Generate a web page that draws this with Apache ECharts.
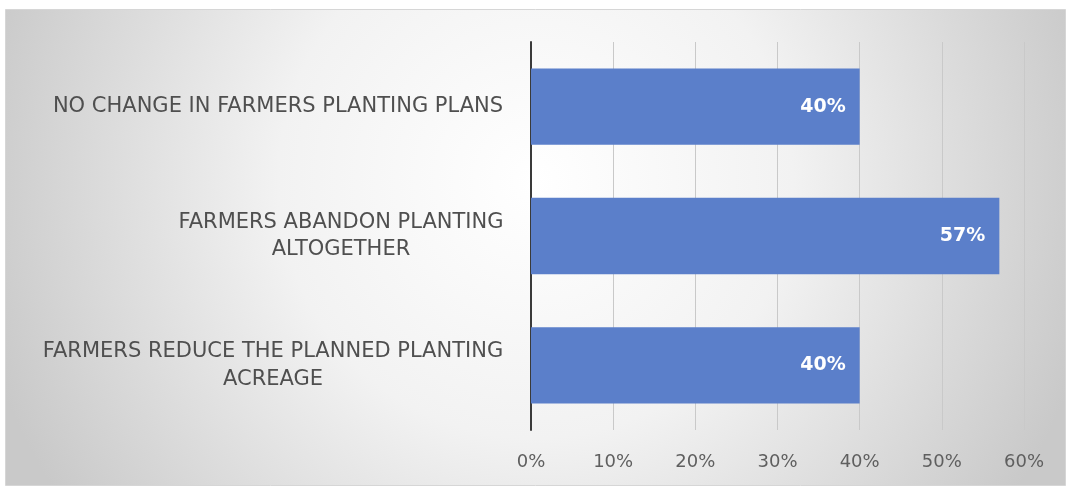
<!DOCTYPE html>
<html>
<head>
<meta charset="utf-8">
<script src="https://cdn.jsdelivr.net/npm/echarts@6/dist/echarts.min.js"></script>
<style>
  html, body { margin: 0; padding: 0; background: #ffffff; }
  #chart { width: 1071px; height: 491px; }
</style>
</head>
<body>
<div id="chart"></div>
<script>
// Survey outcomes: how farmers changed their planting plans
const categories = [
  'NO CHANGE IN FARMERS PLANTING PLANS',
  'FARMERS ABANDON PLANTING\nALTOGETHER',
  'FARMERS REDUCE THE PLANNED PLANTING\nACREAGE'
];
const shares = [0.40, 0.57, 0.40];
const tickLabels = ['0%', '10%', '20%', '30%', '40%', '50%', '60%'];

const labelFont = '"DejaVu Sans", "Liberation Sans", sans-serif';
const labelSize = 21;

// Width of the widest line of each category label, so every line can be centred in its block
const measureCtx = document.createElement('canvas').getContext('2d');
measureCtx.font = labelSize + 'px ' + labelFont;
const rich = {};
categories.forEach(function (c, i) {
  const w = Math.max.apply(null, c.split('\n').map(function (l) { return measureCtx.measureText(l).width; }));
  rich['c' + i] = { width: Math.ceil(w) + 1, align: 'center', fontSize: labelSize, fontFamily: labelFont, color: '#4f4f4f', lineHeight: 27.5 };
});

const chart = echarts.init(document.getElementById('chart'), null, { renderer: 'canvas' });
chart.setOption({
  backgroundColor: '#ffffff',
  animation: false,
  graphic: [{
    type: 'rect',
    z: -10,
    shape: { x: 5.5, y: 9.5, width: 1060, height: 476 },
    style: {
      fill: {
        type: 'radial', x: 0.5, y: 0.36, r: 1.2,
        colorStops: [
          { offset: 0, color: '#ffffff' },
          { offset: 0.45, color: '#f2f2f2' },
          { offset: 1, color: '#c9c9c9' }
        ]
      },
      stroke: '#d6d6d6',
      lineWidth: 1
    }
  }],
  grid: { left: 531, right: 47, top: 42, bottom: 61, containLabel: false },
  xAxis: {
    type: 'value',
    min: 0,
    max: 0.6,
    interval: 0.1,
    axisLine: { show: false },
    axisTick: { show: false },
    splitLine: { show: true, lineStyle: { color: '#c9c9c9', width: 1 } },
    axisLabel: {
      margin: 23,
      fontSize: 18,
      fontFamily: labelFont,
      color: '#5f5f5f',
      formatter: function (v) { return tickLabels[Math.round(v * 10)]; }
    }
  },
  yAxis: {
    type: 'category',
    inverse: true,
    data: categories,
    axisLine: { show: true, lineStyle: { color: '#3a3a3a', width: 2 } },
    axisTick: { show: false },
    axisLabel: {
      margin: 27,
      align: 'right',
      rich: rich,
      formatter: function (v, i) {
        return v.split('\n').map(function (l) { return '{c' + i + '|' + l + '}'; }).join('\n');
      }
    }
  },
  series: [{
    type: 'bar',
    data: shares,
    barCategoryGap: '41%',
    itemStyle: { color: '#5b7fca' },
    label: {
      show: true,
      position: 'insideRight',
      distance: 14,
      color: '#ffffff',
      fontWeight: 'bold',
      fontSize: 19,
      fontFamily: labelFont,
      formatter: function (p) { return Math.round(p.value * 100) + '%'; }
    }
  }]
});
</script>
</body>
</html>
